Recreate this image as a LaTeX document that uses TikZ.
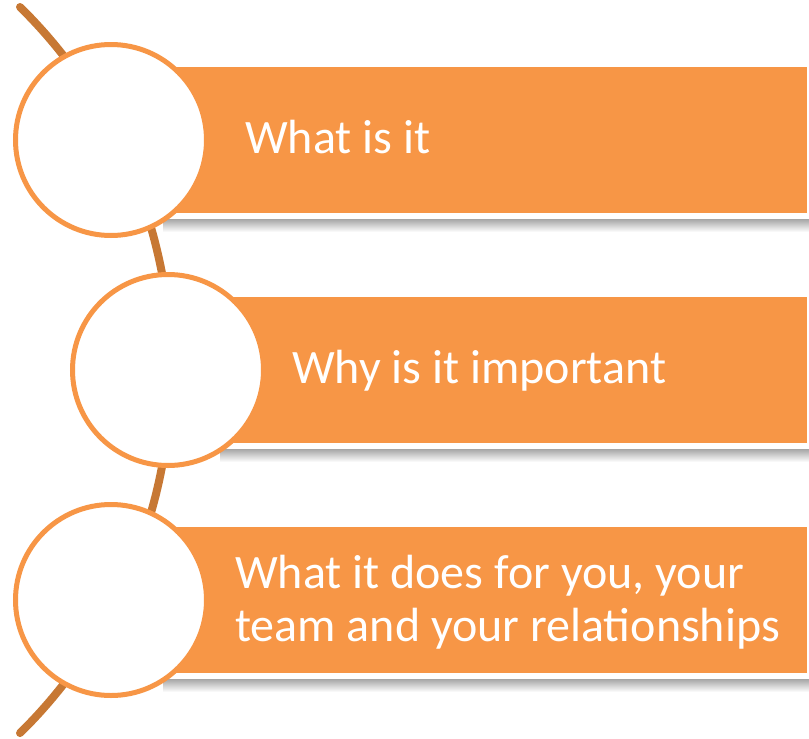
\documentclass[tikz,border=0pt]{standalone}
\usepackage{fontspec}
\setmainfont{Carlito}
\usepackage{tikz}
\usetikzlibrary{positioning}
\definecolor{barorange}{HTML}{F79646}
\definecolor{arcbrown}{RGB}{199,120,52}
\tikzset{
    bar/.style = {rectangle, fill=barorange, inner sep=0pt, minimum width=696pt, minimum height=146pt},
    disc/.style = {circle, draw=barorange, line width=5pt, fill=white, minimum size=191pt, inner sep=0pt},
    label text/.style = {inner sep=0pt, text=white, align=left, font=\fontsize{48}{53}\selectfont},
    spine/.style = {draw=arcbrown, line width=8pt, line cap=round},
    barshadow/.style = {top color=black!35, bottom color=white}
}
\begin{document}
\begin{tikzpicture}[x=1pt,y=-1pt]
\useasboundingbox (0,0) rectangle (809,739);
%
\coordinate (arctop) at (20,7);
\draw[spine] (arctop) arc[start angle=-46.2, end angle=46.2, x radius=491, y radius=503];
%
\shade[barshadow] (163,219) rectangle (809,232);
\shade[barshadow] (220,449) rectangle (809,462);
\shade[barshadow] (163,679) rectangle (809,692);
%
\node[bar] at (459,140) (bar1) {};
\node[bar] at (459,370) (bar2) {};
\node[bar] at (459,600) (bar3) {};
%
\node[disc] at (111,140) (c1) {};
\node[disc] at (168,370) (c2) {};
\node[disc] at (111,600) (c3) {};
%
\node[label text, anchor=base west] at (245,153) (whatis) {What is it};
\node[label text, anchor=base west] at (292,383) (whyis) {Why is it important};
\node[label text, anchor=west] at (235,602) (doesfor) {What it does for you, your\\team and your relationships};
\end{tikzpicture}
\end{document}
